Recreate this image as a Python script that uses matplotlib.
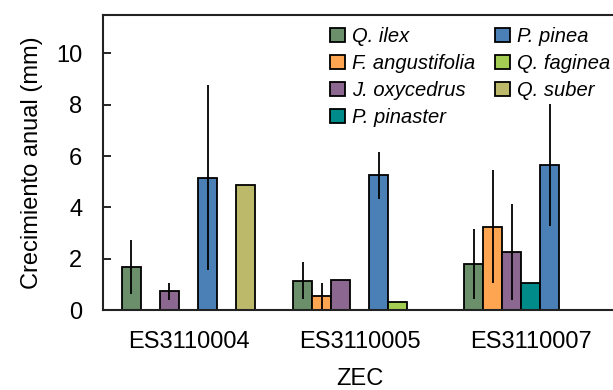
import matplotlib.pyplot as plt
import numpy as np

plt.rcParams['font.family'] = ['Liberation Sans', 'DejaVu Sans']

sites = ['ES3110004', 'ES3110005', 'ES3110007']
species = ['Q. ilex', 'F. angustifolia', 'J. oxycedrus', 'P. pinaster',
           'P. pinea', 'Q. faginea', 'Q. suber']
colors = ['#6b8f6b', '#fda550', '#8c6890', '#008b8b',
          '#4a80b6', '#a2cc52', '#bdb96a']

# mean growth per species (rows) and site (cols); nan = no data
means = [
    [1.68, 1.15, 1.79],
    [np.nan, 0.54, 3.24],
    [0.74, 1.17, 2.27],
    [np.nan, np.nan, 1.06],
    [5.16, 5.25, 5.66],
    [np.nan, 0.32, np.nan],
    [4.86, np.nan, np.nan],
]
errs = [
    [1.05, 0.73, 1.35],
    [np.nan, 0.50, 2.20],
    [0.33, np.nan, 1.88],
    [np.nan, np.nan, np.nan],
    [3.60, 0.91, 2.37],
    [np.nan, np.nan, np.nan],
    [np.nan, np.nan, np.nan],
]

fig = plt.figure(figsize=(6.13, 3.90), dpi=100)
ax = fig.add_axes([0.168, 0.205, 0.837, 0.757])

n_sp = len(species)
step = n_sp + 2
group_x = np.arange(len(sites)) * step

for k in range(n_sp):
    x = group_x + k
    m = np.array(means[k])
    e = np.array(errs[k])
    ok = ~np.isnan(m)
    ax.bar(x[ok], m[ok], width=1.0, color=colors[k], edgecolor='black',
           linewidth=1.3, label=species[k], zorder=2)
    ek = ok & ~np.isnan(e)
    if ek.any():
        ax.errorbar(x[ek], m[ek], yerr=e[ek], fmt='none', ecolor='black',
                    elinewidth=1.3, capsize=0, zorder=3)

ax.set_xlim(-1.5, 2 * step + n_sp - 1 + 1.5)
ax.set_ylim(0, 11.5)
ax.set_yticks([0, 2, 4, 6, 8, 10])
ax.set_xticks(group_x + (n_sp - 1) / 2)
ax.set_xticklabels(sites)
ax.tick_params(axis='y', direction='in', length=6, width=1.2,
               labelsize=17, pad=15)
ax.tick_params(axis='x', length=0, labelsize=17, pad=15)
ax.spines['right'].set_visible(False)
for s in ['left', 'top', 'bottom']:
    ax.spines[s].set_linewidth(1.5)
    ax.spines[s].set_color('#222222')

ax.set_ylabel('Crecimiento anual (mm)', fontsize=17, labelpad=9)
ax.set_xlabel('ZEC', fontsize=17, labelpad=11)

leg = ax.legend(ncol=2, loc='upper right', bbox_to_anchor=(1.013, 1.0),
                frameon=False, fontsize=14.5, handlelength=0.75,
                handleheight=0.75, handletextpad=0.35, columnspacing=1.0,
                labelspacing=0.4, borderaxespad=0.2)
for t in leg.get_texts():
    t.set_fontstyle('italic')

fig.savefig('out.png', dpi=100)
